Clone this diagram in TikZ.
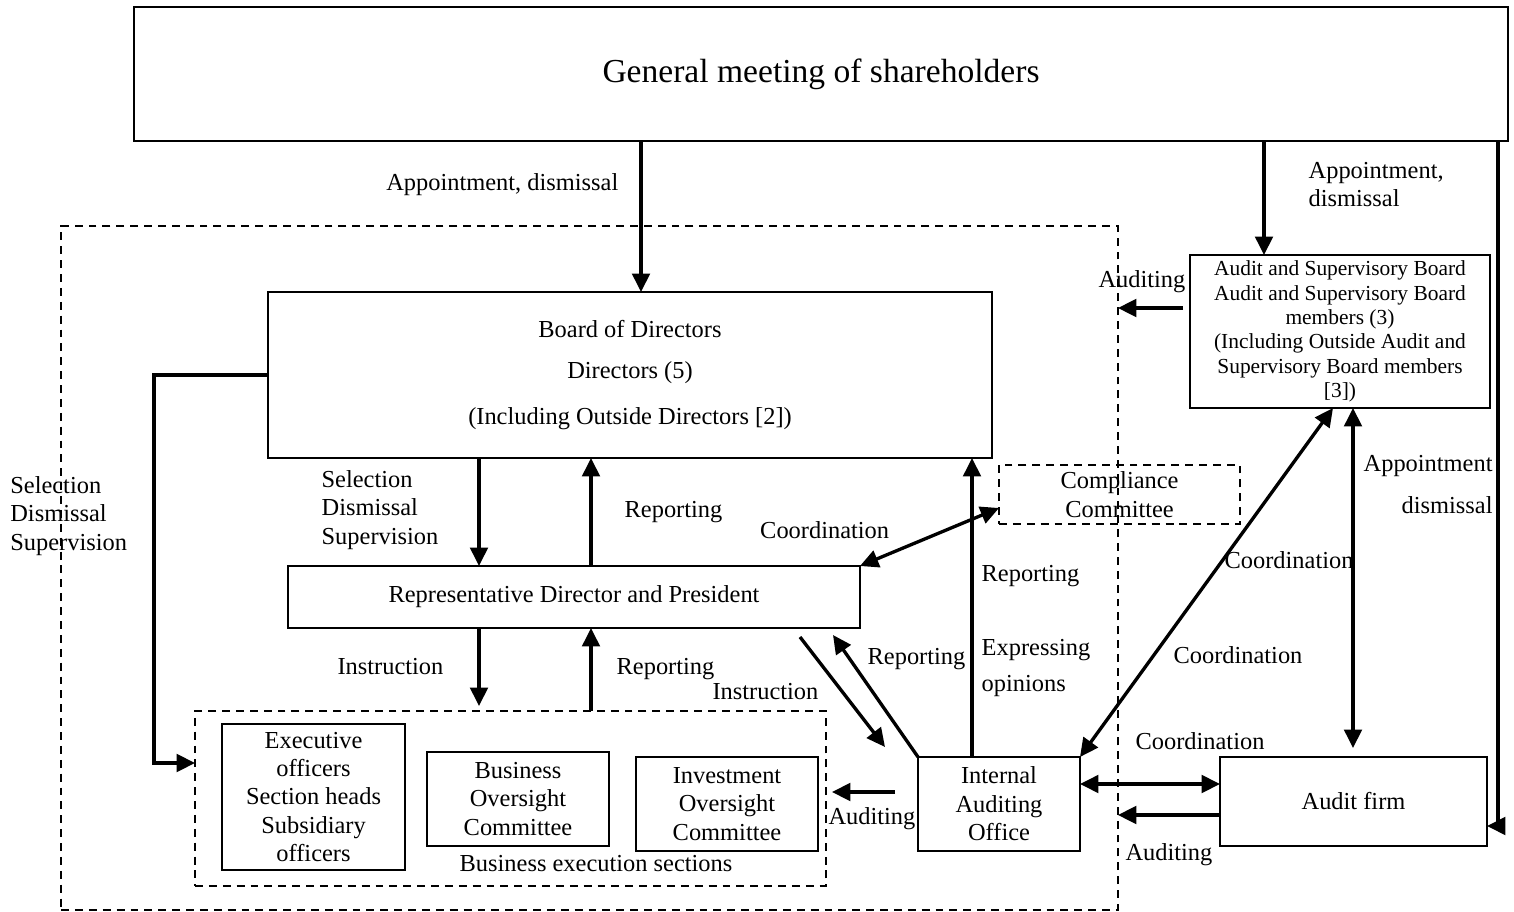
\documentclass[tikz,border=0pt]{standalone}
\usepackage{fontspec}
\setmainfont{Liberation Serif}
\usetikzlibrary{arrows.meta}
\tikzstyle{box} = [rectangle, draw=black, line width=1.1pt, inner sep=0pt, outer sep=0pt, text centered, align=center]
\tikzstyle{dashbox} = [box, dashed, dash pattern=on 4.5pt off 3.4pt]
\tikzstyle{lbl} = [inner sep=0pt]
\tikzstyle{arrow} = [line width=1.9pt,->,>={Triangle[length=10.5pt,width=10pt]}]
\tikzstyle{dblarrow} = [arrow,<->]

\begin{document}
\begin{tikzpicture}[x=0.02cm, y=-0.02cm, font=\fontsize{13.9}{16.2}\selectfont]
\useasboundingbox (0,0) rectangle (1514,912);

% Nodes / blocks
\node (outer) [dashbox, minimum width=21.14cm, minimum height=13.68cm] at (589.5,568) {};
\node (gm) [box, minimum width=27.48cm, minimum height=2.68cm, font=\fontsize{19.1}{22}\selectfont] at (821,74) {General meeting of shareholders};
\node (board) [box, minimum width=14.48cm, minimum height=3.32cm] at (630,375) {Board of Directors\\[7pt]Directors (5)\\[10pt](Including Outside Directors [2])};
\node (rep) [box, minimum width=11.44cm, minimum height=1.24cm] at (574,597) {Representative Director and President};
\node (comp) [dashbox, minimum width=4.82cm, minimum height=1.18cm] at (1119.5,494.5) {Compliance\\Committee};
\node (asb) [box, minimum width=6cm, minimum height=3.06cm, font=\fontsize{12.2}{13.9}\selectfont] at (1340,331.5) {Audit and Supervisory Board\\Audit and Supervisory Board\\members (3)\\(Including Outside Audit and\\Supervisory Board members\\{[3]})};
\node (firm) [box, minimum width=5.34cm, minimum height=1.78cm] at (1353.5,801.5) {Audit firm};
\node (iao) [box, minimum width=3.24cm, minimum height=1.88cm] at (999,804) {Internal\\Auditing\\Office};
\node (bes) [dashbox, minimum width=12.62cm, minimum height=3.5cm] at (510.5,798.5) {};
\node (exo) [box, minimum width=3.66cm, minimum height=2.92cm] at (313.5,797) {Executive\\officers\\Section heads\\Subsidiary\\officers};
\node (boc) [box, minimum width=3.64cm, minimum height=1.88cm] at (518,799) {Business\\Oversight\\Committee};
\node (ioc) [box, minimum width=3.64cm, minimum height=1.88cm] at (727,804) {Investment\\Oversight\\Committee};
\node (besLbl) [lbl] at (596,864) {Business execution sections};
\node (selLbl) [lbl, anchor=west, align=left] at (10,516) {Selection\\Dismissal\\Supervision};

% Coordinates
\coordinate (c1) at (641,0);
\coordinate (c2) at (1264,0);
\coordinate (c3) at (1498,826);
\coordinate (c4) at (1183,308);
\coordinate (c5) at (1353,0);
\coordinate (c7) at (1150,784);
\coordinate (c8) at (1170,815);
\coordinate (c9) at (870,792);
\coordinate (c10) at (972,0);
\coordinate (c13) at (479,0);
\coordinate (c14) at (591,0);
\coordinate (c17) at (154,763);
\coordinate (insA) at (800,637);
\coordinate (insB) at (885,747);
\coordinate (repB) at (833,635);

% Arrows
\draw [arrow] (gm.south -| c1) -- node[lbl, pos=0.29, anchor=east, xshift=-0.42cm] {Appointment, dismissal} (board.north -| c1);
\draw [arrow] (gm.south -| c2) -- node[lbl, pos=0.38, anchor=west, xshift=0.86cm, align=left] {Appointment,\\dismissal} (asb.north -| c2);
\draw [arrow] (gm.south -| c3) -- (c3) -- (firm.east |- c3);
\draw [arrow, shorten <=0.14cm] (asb.west |- c4) -- node[lbl, anchor=south, xshift=-0.24cm, yshift=0.28cm] {Auditing} (outer.east |- c4);
\draw [dblarrow, shorten >=0.18cm] (asb.south -| c5) -- node[lbl, pos=0.22, anchor=west, xshift=0.18cm, align=right] {Appointment\\[8pt]dismissal} (firm.north -| c5);
\draw [dblarrow] ([xshift=-0.14cm]asb.south) -- node[lbl, pos=0.435, anchor=west] {Coordination} node[lbl, pos=0.708, anchor=west, xshift=0.36cm] {Coordination} (iao.north east);
\draw [dblarrow] (iao.east |- c7) -- node[lbl, anchor=south, xshift=1cm, yshift=0.66cm] {Coordination} (firm.west |- c7);
\draw [arrow] (firm.west |- c8) -- node[lbl, anchor=north, yshift=-0.54cm] {Auditing} (outer.east |- c8);
\draw [arrow, shorten <=0.46cm, shorten >=0.12cm] (iao.west |- c9) -- node[lbl, anchor=north, yshift=-0.28cm] {Auditing} (bes.east |- c9);
\draw [arrow] (iao.north -| c10) -- node[lbl, pos=0.605, anchor=west, xshift=0.16cm] {Reporting} node[lbl, pos=0.298, anchor=west, xshift=0.16cm, align=left] {Expressing\\[4pt]opinions} (board.south -| c10);
\draw [dblarrow] (rep.north east) -- node[lbl, pos=0.2, anchor=south east, xshift=0.06cm, yshift=0.28cm] {Coordination} ([yshift=-0.27cm]comp.west);
\draw [arrow] (insA) -- node[lbl, anchor=east, xshift=-0.45cm] {Instruction} (insB);
\draw [arrow] (iao.north west) -- node[lbl, pos=0.8, anchor=west, xshift=0.32cm] {Reporting} (repB);
\draw [arrow] (board.south -| c13) -- node[lbl, pos=0.48, anchor=east, xshift=-0.78cm, align=left] {Selection\\Dismissal\\Supervision} (rep.north -| c13);
\draw [arrow] (rep.north -| c14) -- node[lbl, anchor=west, xshift=0.64cm] {Reporting} (board.south -| c14);
\draw [arrow, shorten >=0.1cm] (rep.south -| c13) -- node[lbl, pos=0.46, anchor=east, xshift=-0.68cm] {Instruction} (bes.north -| c13);
\draw [arrow] (bes.north -| c14) -- node[lbl, anchor=west, xshift=0.48cm] {Reporting} (rep.south -| c14);
\draw [arrow] (board.west) -| (c17) -- (bes.west |- c17);

\end{tikzpicture}
\end{document}
